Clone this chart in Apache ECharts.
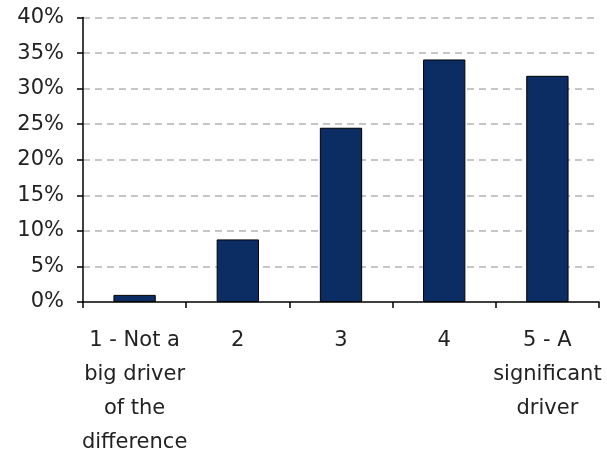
<!DOCTYPE html>
<html>
<head>
<meta charset="utf-8">
<script src="https://cdn.jsdelivr.net/npm/echarts@6/dist/echarts.min.js"></script>
<style>
  html, body { margin: 0; padding: 0; background: #fff; }
  #chart { width: 607px; height: 455px; }
</style>
</head>
<body>
<div id="chart"></div>
<script>
// Share of responses per rating (percent)
var categories = [
  '1 - Not a\nbig driver\nof the\ndifference',
  '2',
  '3',
  '4',
  '5 - A\nsignificant\ndriver'
];
var shares = [1.0, 8.8, 24.5, 34.1, 31.8];
var yTicks = { min: 0, max: 40, step: 5 };

var chart = echarts.init(document.getElementById('chart'), null, { renderer: 'canvas' });
var font = '"DejaVu Sans", Verdana, sans-serif';

chart.setOption({
  animation: false,
  backgroundColor: '#ffffff',
  grid: {
    left: 83, right: 8, top: 17.5, bottom: 153,
    containLabel: false,
    outerBoundsMode: 'none'
  },
  xAxis: {
    type: 'category',
    data: categories,
    z: 5,
    axisLine: { lineStyle: { color: '#000', width: 1.5 } },
    axisTick: { show: true, length: 6, lineStyle: { color: '#000', width: 1.5 } },
    axisLabel: {
      color: '#222',
      fontFamily: font,
      fontSize: 21,
      lineHeight: 34,
      margin: 22,
      interval: 0
    },
    splitLine: { show: false }
  },
  yAxis: {
    type: 'value',
    min: yTicks.min,
    max: yTicks.max,
    interval: yTicks.step,
    axisLine: { show: true, lineStyle: { color: '#000', width: 1.5 } },
    axisTick: { show: true, length: 6, lineStyle: { color: '#000', width: 1.5 } },
    axisLabel: {
      color: '#222',
      fontFamily: font,
      fontSize: 21,
      margin: 19,
      formatter: function (v) { return v + '%'; }
    },
    splitLine: {
      show: true,
      showMinLine: false,
      lineStyle: { color: '#c6c6c6', width: 2, type: [7, 5] }
    }
  },
  series: [{
    type: 'bar',
    data: shares,
    barWidth: '41%',
    itemStyle: { color: '#0c2d63', borderColor: '#000', borderWidth: 1 }
  }]
});
</script>
</body>
</html>
